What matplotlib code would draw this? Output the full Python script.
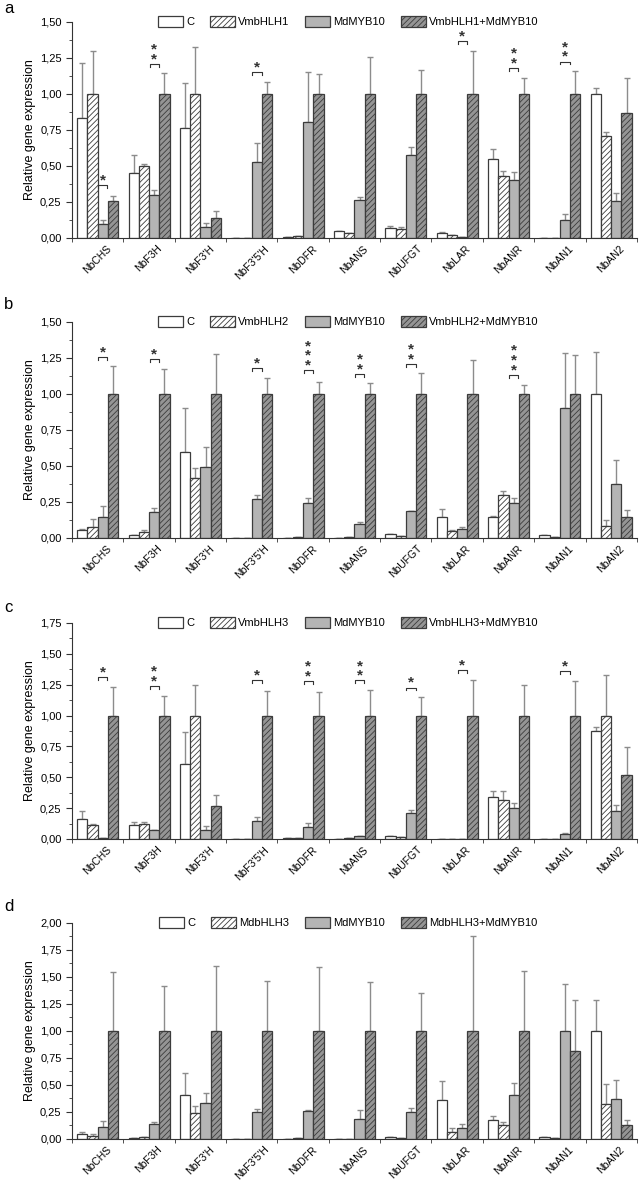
import numpy as np
import matplotlib
matplotlib.use('Agg')
import matplotlib.pyplot as plt
from matplotlib.ticker import MultipleLocator, FuncFormatter

plt.rcParams['font.family'] = ['Liberation Sans', 'DejaVu Sans']
plt.rcParams['hatch.linewidth'] = 0.6

genes = ['NbCHS', 'NbF3H', "NbF3'H", "NbF3'5'H", 'NbDFR', 'NbANS', 'NbUFGT',
         'NbLAR', 'NbANR', 'NbAN1', 'NbAN2']

# panel a
a_labels = ['C', 'VmbHLH1', 'MdMYB10', 'VmbHLH1+MdMYB10']
a_c = [0.835, 0.45, 0.765, 0.0, 0.01, 0.048, 0.07, 0.037, 0.545, 0.0, 1.0]
a_c_err = [0.38, 0.125, 0.31, 0.0, 0.0, 0.0, 0.016, 0.004, 0.07, 0.0, 0.038]
a_v = [1.0, 0.50, 1.0, 0.0, 0.012, 0.037, 0.065, 0.02, 0.43, 0.002, 0.708]
a_v_err = [0.30, 0.012, 0.325, 0.0, 0.0, 0.0, 0.01, 0.003, 0.037, 0.0, 0.026]
a_m = [0.095, 0.30, 0.077, 0.525, 0.808, 0.262, 0.576, 0.005, 0.40, 0.123, 0.255]
a_m_err = [0.028, 0.035, 0.03, 0.132, 0.343, 0.024, 0.058, 0.0, 0.06, 0.044, 0.058]
a_vm = [0.255, 1.0, 0.139, 1.0, 1.0, 1.0, 1.0, 1.0, 1.0, 1.0, 0.866]
a_vm_err = [0.035, 0.145, 0.047, 0.084, 0.138, 0.256, 0.163, 0.30, 0.11, 0.159, 0.246]
a_sig = {0: (1, 0.365), 1: (2, 1.21), 3: (1, 1.155), 7: (1, 1.365), 8: (2, 1.18), 9: (2, 1.225)}

# panel b
b_labels = ['C', 'VmbHLH2', 'MdMYB10', 'VmbHLH2+MdMYB10']
b_c = [0.056, 0.018, 0.595, 0.0, 0.002, 0.003, 0.026, 0.147, 0.144, 0.021, 1.0]
b_c_err = [0.009, 0.0, 0.307, 0.0, 0.0, 0.0, 0.0, 0.051, 0.006, 0.0, 0.29]
b_v = [0.074, 0.04, 0.416, 0.0, 0.007, 0.01, 0.012, 0.047, 0.295, 0.005, 0.081]
b_v_err = [0.056, 0.018, 0.072, 0.0, 0.0, 0.0, 0.0, 0.006, 0.033, 0.0, 0.042]
b_m = [0.144, 0.181, 0.493, 0.27, 0.242, 0.098, 0.184, 0.065, 0.242, 0.90, 0.377]
b_m_err = [0.075, 0.024, 0.137, 0.025, 0.037, 0.01, 0.0, 0.014, 0.035, 0.386, 0.167]
b_vm = [1.0, 1.0, 1.0, 1.0, 1.0, 1.0, 1.0, 1.0, 1.0, 1.0, 0.142]
b_vm_err = [0.193, 0.17, 0.279, 0.109, 0.086, 0.074, 0.144, 0.235, 0.06, 0.267, 0.053]
b_sig = {0: (1, 1.255), 1: (1, 1.24), 3: (1, 1.18), 4: (3, 1.165), 5: (2, 1.14), 6: (2, 1.21), 8: (3, 1.133)}

# panel c
c_labels = ['C', 'VmbHLH3', 'MdMYB10', 'VmbHLH3+MdMYB10']
c_c = [0.16, 0.111, 0.604, 0.0, 0.005, 0.002, 0.027, 0.003, 0.344, 0.0, 0.875]
c_c_err = [0.065, 0.027, 0.26, 0.0, 0.0, 0.0, 0.0, 0.0, 0.046, 0.0, 0.035]
c_v = [0.114, 0.125, 1.0, 0.0, 0.005, 0.005, 0.015, 0.002, 0.312, 0.0, 1.0]
c_v_err = [0.008, 0.01, 0.246, 0.0, 0.0, 0.0, 0.0, 0.0, 0.078, 0.0, 0.325]
c_m = [0.01, 0.07, 0.076, 0.146, 0.095, 0.027, 0.214, 0.003, 0.255, 0.041, 0.225]
c_m_err = [0.0, 0.005, 0.027, 0.033, 0.038, 0.0, 0.024, 0.0, 0.04, 0.006, 0.049]
c_vm = [1.0, 1.0, 0.271, 1.0, 1.0, 1.0, 1.0, 1.0, 1.0, 1.0, 0.515]
c_vm_err = [0.23, 0.157, 0.084, 0.197, 0.19, 0.203, 0.149, 0.29, 0.249, 0.28, 0.227]
c_sig = {0: (1, 1.31), 1: (2, 1.24), 3: (1, 1.284), 4: (2, 1.28), 5: (2, 1.284), 6: (1, 1.227), 7: (1, 1.365), 9: (1, 1.36)}

# panel d
d_labels = ['C', 'MdbHLH3', 'MdMYB10', 'MdbHLH3+MdMYB10']
d_c = [0.05, 0.012, 0.403, 0.0, 0.003, 0.002, 0.019, 0.36, 0.174, 0.019, 1.0]
d_c_err = [0.018, 0.0, 0.207, 0.0, 0.0, 0.0, 0.0, 0.173, 0.034, 0.0, 0.287]
d_v = [0.031, 0.015, 0.242, 0.0, 0.005, 0.002, 0.01, 0.065, 0.127, 0.012, 0.322]
d_v_err = [0.014, 0.005, 0.062, 0.0, 0.0, 0.0, 0.0, 0.04, 0.034, 0.0, 0.187]
d_m = [0.109, 0.143, 0.332, 0.251, 0.26, 0.189, 0.248, 0.099, 0.403, 1.0, 0.369]
d_m_err = [0.055, 0.017, 0.09, 0.022, 0.005, 0.075, 0.037, 0.037, 0.112, 0.433, 0.177]
d_vm = [1.0, 1.0, 1.0, 1.0, 1.0, 1.0, 1.0, 1.0, 1.0, 0.816, 0.127]
d_vm_err = [0.547, 0.42, 0.606, 0.46, 0.594, 0.457, 0.349, 0.876, 0.557, 0.471, 0.05]
d_sig = {}

# letter, legend labels, values, errors, significance, ymax, axes bottom, letter y
panels = [
    ('a', a_labels, [a_c, a_v, a_m, a_vm], [a_c_err, a_v_err, a_m_err, a_vm_err], a_sig, 1.5, 0.7985, 0.9932),
    ('b', b_labels, [b_c, b_v, b_m, b_vm], [b_c_err, b_v_err, b_m_err, b_vm_err], b_sig, 1.5, 0.5445, 0.7418),
    ('c', c_labels, [c_c, c_v, c_m, c_vm], [c_c_err, c_v_err, c_m_err, c_vm_err], c_sig, 1.75, 0.2896, 0.4860),
    ('d', d_labels, [d_c, d_v, d_m, d_vm], [d_c_err, d_v_err, d_m_err, d_vm_err], d_sig, 2.0, 0.0356, 0.2328),
]

faces = ['white', 'white', '#b4b4b4', '#959595']
hatches = [None, '//////', None, '//////']
edge = '#3c3c3c'
width = 0.2
axh = 0.1829

fig = plt.figure(figsize=(6.39, 11.81), dpi=100)
x = np.arange(len(genes))

for letter, labels, vals, errs, sig, ymax, bottom, ly in panels:
    ax = fig.add_axes([0.1127, bottom, 0.884, axh])
    for k in range(4):
        pos = x + (k - 1.5) * width
        ax.bar(pos, vals[k], width, color=faces[k], edgecolor=edge, linewidth=0.9,
               hatch=hatches[k], label=labels[k], zorder=2)
        ax.errorbar(pos, vals[k], yerr=[np.zeros(len(genes)), errs[k]], fmt='none',
                    ecolor='#8c8c8c', elinewidth=1.0, capsize=2, capthick=1.0, zorder=1)
    # significance brackets between MdMYB10 and the combination
    for gi, (n, yb) in sig.items():
        xb = gi + 0.5 * width
        h = 0.02 * ymax / 1.5
        ax.plot([xb - 0.09, xb - 0.09, xb + 0.09, xb + 0.09], [yb - h, yb, yb, yb - h],
                color='#333333', lw=0.8)
        ax.annotate('\n'.join(['*'] * n), xy=(xb, yb), xytext=(0, -1.7), textcoords='offset points',
                    ha='center', va='bottom', fontsize=11, fontweight='bold', color='#333333',
                    linespacing=0.6)

    ax.set_xlim(-0.5, len(genes) - 0.5)
    ax.set_ylim(0, ymax)
    ax.spines['top'].set_visible(False)
    ax.spines['right'].set_visible(False)
    ax.spines['left'].set_color('#333333')
    ax.spines['bottom'].set_color('#333333')
    ax.yaxis.set_major_locator(MultipleLocator(0.25))
    ax.yaxis.set_minor_locator(MultipleLocator(0.125))
    ax.yaxis.set_major_formatter(FuncFormatter(lambda v, p: ('%.2f' % v).replace('.', ',')))
    ax.tick_params(axis='y', which='major', direction='out', length=4, labelsize=8, color='#333333')
    ax.tick_params(axis='y', which='minor', direction='out', length=2, color='#333333')
    ax.set_xticks(x)
    ax.set_xticklabels(genes, rotation=45, ha='center', va='top', fontsize=7.5)
    ax.tick_params(axis='x', which='major', length=0, pad=4)
    ax.set_xticks(np.arange(-0.5, len(genes)), minor=True)
    ax.tick_params(axis='x', which='minor', direction='out', length=3, color='#333333')
    ax.set_ylabel('Relative gene expression', fontsize=9, labelpad=3)

    fig.text(0.006, ly, letter, fontsize=12, ha='left', va='center')
    fig.legend(*ax.get_legend_handles_labels(), loc='center', ncol=4, frameon=False,
               bbox_to_anchor=(0.545, bottom + axh + 0.0005), fontsize=8,
               handlelength=2.25, handleheight=1.2, handletextpad=0.3, columnspacing=1.4)

fig.savefig('out.png', dpi=100)
